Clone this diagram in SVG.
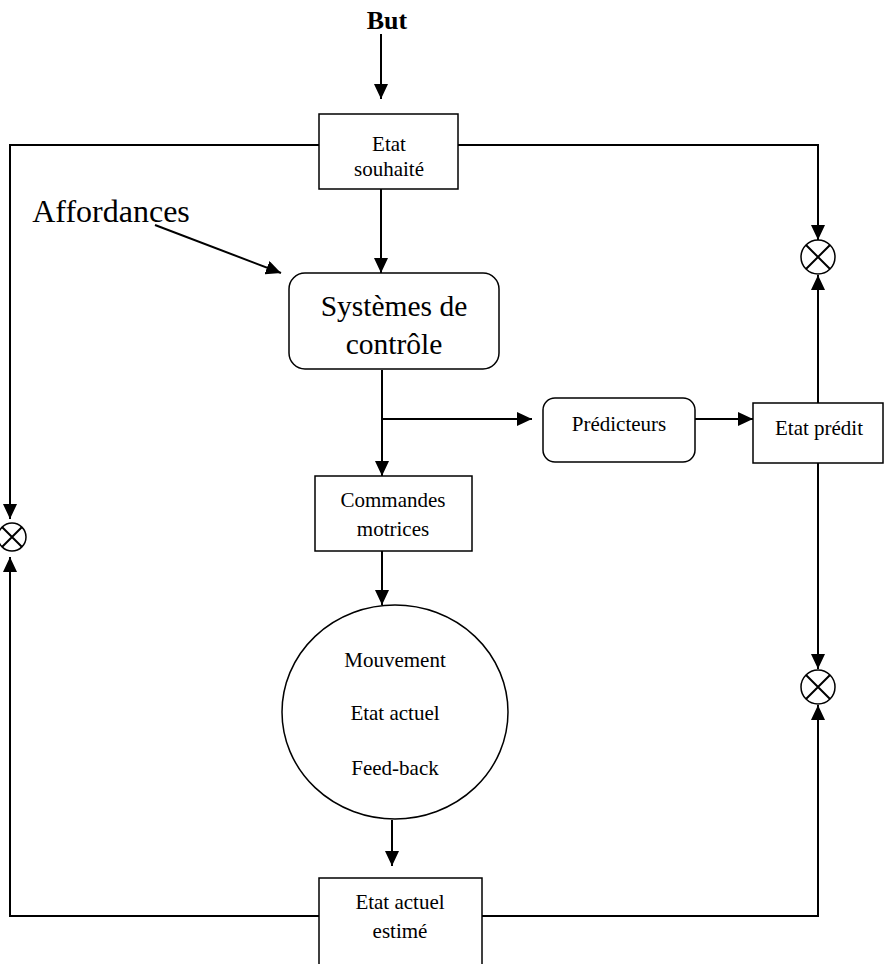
<svg xmlns="http://www.w3.org/2000/svg" width="884" height="964" viewBox="0 0 884 964" font-family="'Liberation Serif', 'Times New Roman', 'DejaVu Serif', serif">
<style>
text{font-family:'Liberation Serif','Times New Roman','DejaVu Serif',serif;fill:#000;text-anchor:middle}
.s{font-size:21px}
.l{font-size:29.5px}
.box{fill:#fff;stroke:#000;stroke-width:1.5}
.c{fill:none;stroke:#000;stroke-width:2}
.a{marker-end:url(#ah)}
</style>
<defs>
<marker id="ah" markerUnits="userSpaceOnUse" markerWidth="16" markerHeight="14" refX="15" refY="7" orient="auto">
<path d="M0,0 L15,7 L0,14 Z" fill="#000"/>
</marker>
</defs>
<g id="connectors">
<path class="c a" d="M381,34 V99"/>
<path class="c a" d="M319,145 H10 V519"/>
<path class="c a" d="M319,916 H10 V557"/>
<path class="c a" d="M458,145 H818 V240"/>
<path class="c a" d="M818,403 V275"/>
<path class="c a" d="M818,463 V669"/>
<path class="c a" d="M482,916 H818 V705"/>
<path class="c a" d="M155,225 L281,273"/>
<path class="c a" d="M381,189 V273"/>
<path class="c a" d="M382,370 V476"/>
<path class="c a" d="M382,419 H532"/>
<path class="c a" d="M695,419 H753"/>
<path class="c a" d="M382,551 V605"/>
<path class="c a" d="M392,820 V866"/>
</g>
<g id="but"><text x="387" y="29" style="font-size:26px;font-weight:bold">But</text></g>
<g id="affordances"><text x="111" y="222" style="font-size:32px">Affordances</text></g>
<g id="etat-souhaite">
<rect class="box" x="319" y="114" width="139" height="75"/>
<text x="389" y="151" class="s">Etat</text>
<text x="389" y="176" class="s">souhaité</text>
</g>
<g id="systemes">
<rect class="box" x="289" y="273" width="210" height="96" rx="16"/>
<text x="394" y="316" class="l">Systèmes de</text>
<text x="394" y="354" class="l">contrôle</text>
</g>
<g id="predicteurs">
<rect class="box" x="543" y="398" width="152" height="64" rx="12"/>
<text x="619" y="431" class="s">Prédicteurs</text>
</g>
<g id="etat-predit">
<rect class="box" x="753" y="403" width="130" height="60"/>
<text x="819" y="435" class="s">Etat prédit</text>
</g>
<g id="commandes">
<rect class="box" x="315" y="476" width="157" height="75"/>
<text x="393" y="507" class="s">Commandes</text>
<text x="393" y="536" class="s">motrices</text>
</g>
<g id="mouvement">
<ellipse class="box" cx="395" cy="712" rx="113" ry="107"/>
<text x="395" y="667" class="s">Mouvement</text>
<text x="395" y="720" class="s">Etat actuel</text>
<text x="395" y="775" class="s">Feed-back</text>
</g>
<g id="etat-actuel-estime">
<rect class="box" x="319" y="878" width="163" height="100"/>
<text x="400" y="909" class="s">Etat actuel</text>
<text x="400" y="938" class="s">estimé</text>
</g>
<g id="sum-top-right">
<circle class="box" cx="818" cy="257" r="17"/>
<path class="c" stroke-width="1.5" d="M806,245 L830,269 M830,245 L806,269"/>
</g>
<g id="sum-bottom-right">
<circle class="box" cx="818" cy="687" r="17"/>
<path class="c" stroke-width="1.5" d="M806,675 L830,699 M830,675 L806,699"/>
</g>
<g id="sum-left">
<circle class="box" cx="12" cy="537" r="14"/>
<path class="c" stroke-width="1.5" d="M2,527 L22,547 M22,527 L2,547"/>
</g>
</svg>
